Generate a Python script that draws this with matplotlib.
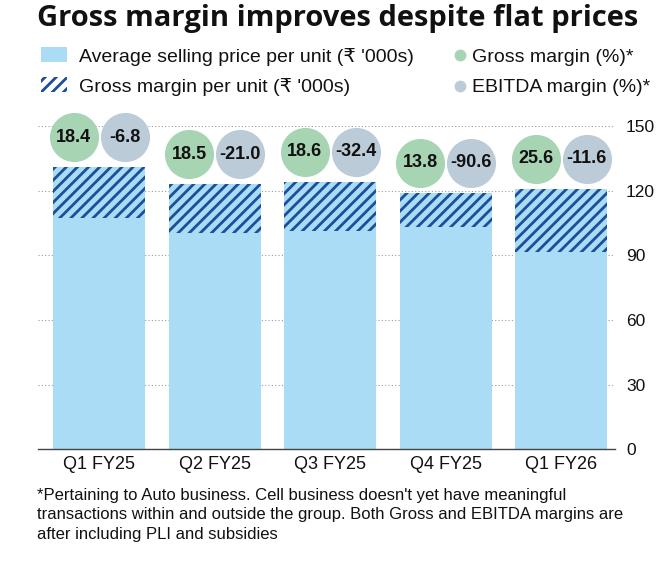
import matplotlib
matplotlib.use("Agg")
import matplotlib.pyplot as plt
from matplotlib.patches import Rectangle

# values
quarters = ["Q1 FY25", "Q2 FY25", "Q3 FY25", "Q4 FY25", "Q1 FY26"]
avg_price = [130.8, 122.9, 124.0, 118.9, 120.8]      # Rs '000s per unit
gm_per_unit = [23.7, 22.7, 22.8, 15.8, 29.1]         # Rs '000s per unit
gross_margin = ["18.4", "18.5", "18.6", "13.8", "25.6"]
ebitda_margin = ["-6.8", "-21.0", "-32.4", "-90.6", "-11.6"]
y_ticks = [0, 30, 60, 90, 120, 150]

title = "Gross margin improves despite flat prices"
legend_labels = ["Average selling price per unit (\u20b9 '000s)",
                 "Gross margin per unit (\u20b9 '000s)",
                 "Gross margin (%)*",
                 "EBITDA margin (%)*"]
footnote = ["*Pertaining to Auto business. Cell business doesn't yet have meaningful",
            "transactions within and outside the group. Both Gross and EBITDA margins are",
            "after including PLI and subsidies"]

LIGHT_BLUE = "#aadcf6"
DARK_BLUE = "#1b4f9a"
GREEN = "#a7d5b4"
GREY = "#bccbd8"
TEXT = "#111111"
BODY = ["Liberation Sans", "DejaVu Sans"]

W, H = 660, 570
plt.rcParams["hatch.linewidth"] = 2.0


def fx(x):
    return x / W


def fy(y):
    return 1 - y / H


fig = plt.figure(figsize=(6.6, 5.7), dpi=100)
ax = fig.add_axes([fx(38), fy(449.3), 577 / W, (449.3 - 126) / H])

x = list(range(len(quarters)))
bottoms = [p - g for p, g in zip(avg_price, gm_per_unit)]
ax.bar(x, avg_price, width=0.8, color=LIGHT_BLUE, linewidth=0, zorder=2)
ax.bar(x, gm_per_unit, bottom=bottoms, width=0.8, color=LIGHT_BLUE,
       edgecolor=DARK_BLUE, hatch="///", linewidth=0, zorder=3)

# margin bubbles sit just above each bar
off = 0.22
cy = [p + 14 for p in avg_price]
ax.scatter([i - off for i in x], cy, s=1250, color=GREEN, linewidths=0,
           clip_on=False, zorder=4)
ax.scatter([i + off for i in x], cy, s=1250, color=GREY, linewidths=0,
           clip_on=False, zorder=4)
for i in x:
    ax.text(i - off, cy[i], gross_margin[i], ha="center", va="center",
            fontsize=13, weight="bold", color=TEXT, family=BODY, zorder=5)
    ax.text(i + off, cy[i], ebitda_margin[i], ha="center", va="center",
            fontsize=13, weight="bold", color=TEXT, family=BODY, zorder=5)

ax.set_xlim(-0.53, 4.465)
ax.set_ylim(0, 150)
ax.set_yticks(y_ticks)
ax.yaxis.tick_right()
ax.set_xticks(x)
ax.set_xticklabels(quarters)
ax.tick_params(axis="y", length=0, pad=8, labelsize=12.5, labelcolor=TEXT)
ax.tick_params(axis="x", length=0, pad=5, labelsize=13, labelcolor=TEXT)
for lab in ax.get_xticklabels() + ax.get_yticklabels():
    lab.set_family(BODY)
ax.grid(axis="y", linestyle=(0, (1, 2)), color="#9a9a9a", linewidth=0.8, zorder=0)
for side in ["top", "left", "right"]:
    ax.spines[side].set_visible(False)
ax.spines["bottom"].set_color("#444444")
ax.spines["bottom"].set_linewidth(1.0)
ax.set_axisbelow(True)

# title
fig.text(fx(37), fy(26), title, fontsize=21, weight="bold",
         family=["Open Sans", "DejaVu Sans"], color=TEXT, va="baseline")

# legend
fig.patches.append(Rectangle((fx(41), fy(62.3)), 25.7 / W, 15.6 / H,
                             transform=fig.transFigure, facecolor=LIGHT_BLUE,
                             linewidth=0))
fig.patches.append(Rectangle((fx(41), fy(92)), 25.7 / W, 15 / H,
                             transform=fig.transFigure, facecolor="white",
                             edgecolor=DARK_BLUE, hatch="///", linewidth=0))
fig.text(fx(79), fy(61.7), legend_labels[0], fontsize=14, family=BODY,
         color=TEXT, va="baseline")
fig.text(fx(79), fy(92.3), legend_labels[1], fontsize=14, family=BODY,
         color=TEXT, va="baseline")
fig.add_artist(plt.Line2D([fx(460)], [fy(55)], marker="o", markersize=7.5,
                          color=GREEN, transform=fig.transFigure))
fig.add_artist(plt.Line2D([fx(460)], [fy(85.5)], marker="o", markersize=7.5,
                          color=GREY, transform=fig.transFigure))
fig.text(fx(472), fy(61.7), legend_labels[2], fontsize=14, family=BODY,
         color=TEXT, va="baseline")
fig.text(fx(472), fy(92.3), legend_labels[3], fontsize=14, family=BODY,
         color=TEXT, va="baseline")

# footnote
for k, line in enumerate(footnote):
    fig.text(fx(37), fy(500 + 19.5 * k), line, fontsize=12, family=BODY,
             color=TEXT, va="baseline")

fig.savefig("out.png", dpi=100)
